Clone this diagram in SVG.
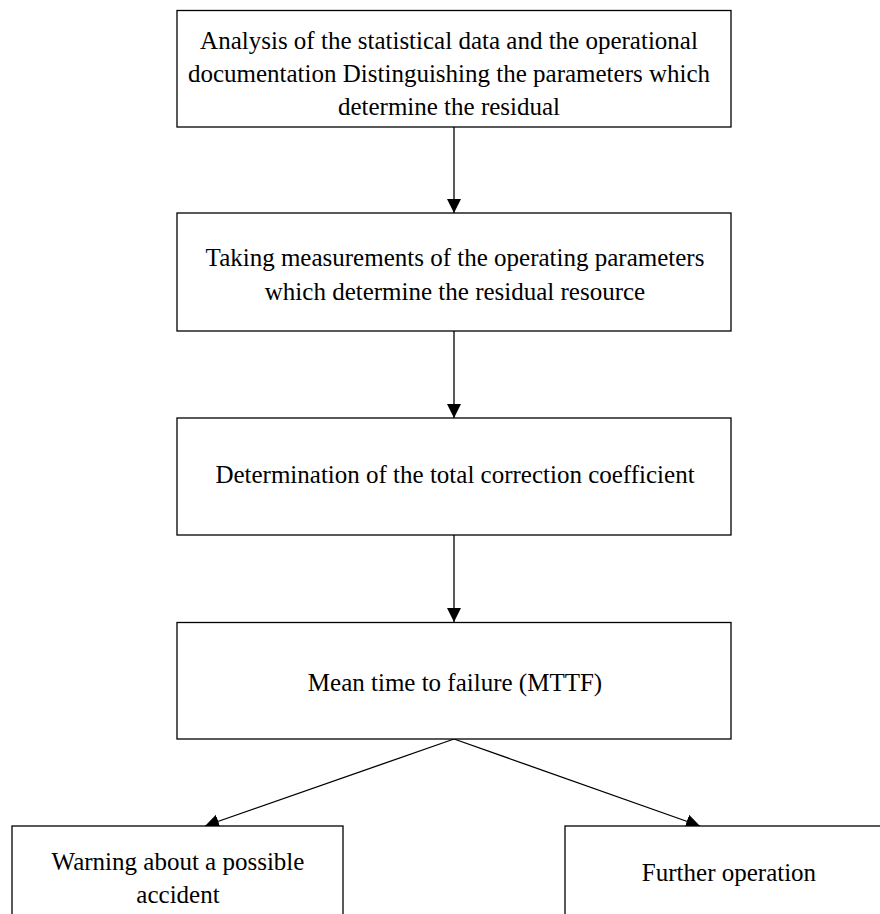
<svg xmlns="http://www.w3.org/2000/svg" width="880" height="914" viewBox="0 0 880 914">
<style>
.box{fill:#fff;stroke:#000;stroke-width:1.3}
.t{font-family:"Liberation Serif","Times New Roman",serif;font-size:25px;fill:#000;text-anchor:middle}
.c{stroke:#000;stroke-width:1.3;fill:none;marker-end:url(#ah)}
</style>
<defs>
<marker id="ah" markerWidth="14" markerHeight="18" viewBox="0 0 14 18" refX="14" refY="9" orient="auto" markerUnits="userSpaceOnUse">
<path d="M0,2 L14,9 L0,16 Z" fill="#000"/>
</marker>
</defs>
<rect width="880" height="914" fill="#fff"/>
<g id="connectors">
<line class="c" x1="454" y1="127" x2="454" y2="213"/>
<line class="c" x1="454" y1="331" x2="454" y2="418"/>
<line class="c" x1="454" y1="535" x2="454" y2="622"/>
<line class="c" x1="454" y1="739" x2="205" y2="826"/>
<line class="c" x1="454" y1="739" x2="700" y2="826"/>
</g>
<g id="n1">
<rect class="box" x="177" y="10.5" width="554" height="116.5"/>
<text class="t" x="449" y="49">Analysis of the statistical data and the operational</text>
<text class="t" x="449" y="82">documentation Distinguishing the parameters which</text>
<text class="t" x="449" y="115">determine the residual</text>
</g>
<g id="n2">
<rect class="box" x="177" y="213" width="554" height="118"/>
<text class="t" x="455" y="266">Taking measurements of the operating parameters</text>
<text class="t" x="455" y="300">which determine the residual resource</text>
</g>
<g id="n3">
<rect class="box" x="177" y="418" width="554" height="117"/>
<text class="t" x="455" y="483">Determination of the total correction coefficient</text>
</g>
<g id="n4">
<rect class="box" x="177" y="622.5" width="554" height="116.5"/>
<text class="t" x="455" y="691">Mean time to failure (MTTF)</text>
</g>
<g id="n5">
<rect class="box" x="12" y="826" width="331" height="100"/>
<text class="t" x="178" y="870">Warning about a possible</text>
<text class="t" x="178" y="903">accident</text>
</g>
<g id="n6">
<rect class="box" x="565" y="826" width="330" height="100"/>
<text class="t" x="729" y="881">Further operation</text>
</g>
</svg>
